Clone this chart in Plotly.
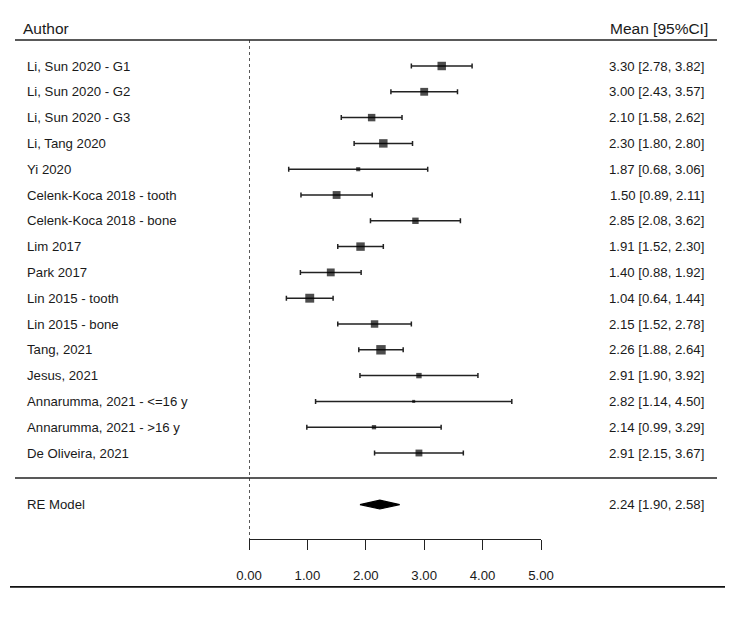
import numpy as np
import plotly.graph_objects as go

# study data
authors = [
    "Li, Sun 2020 - G1", "Li, Sun 2020 - G2", "Li, Sun 2020 - G3", "Li, Tang 2020",
    "Yi 2020", "Celenk-Koca 2018 - tooth", "Celenk-Koca 2018 - bone", "Lim 2017",
    "Park 2017", "Lin 2015 - tooth", "Lin 2015 - bone", "Tang, 2021",
    "Jesus, 2021", "Annarumma, 2021 - <=16 y", "Annarumma, 2021 - >16 y", "De Oliveira, 2021",
]
mean = [3.30, 3.00, 2.10, 2.30, 1.87, 1.50, 2.85, 1.91, 1.40, 1.04, 2.15, 2.26, 2.91, 2.82, 2.14, 2.91]
ci_lo = [2.78, 2.43, 1.58, 1.80, 0.68, 0.89, 2.08, 1.52, 0.88, 0.64, 1.52, 1.88, 1.90, 1.14, 0.99, 2.15]
ci_hi = [3.82, 3.57, 2.62, 2.80, 3.06, 2.11, 3.62, 2.30, 1.92, 1.44, 2.78, 2.64, 3.92, 4.50, 3.29, 3.67]
# relative study weights (%)
weights = [8.5, 7.3, 6.6, 8.5, 2.0, 7.3, 4.9, 8.5, 7.3, 9.4, 6.6, 10.6, 3.5, 1.1, 2.2, 5.6]

re_label = "RE Model"
re_mean, re_lo, re_hi = 2.24, 1.90, 2.58

xticks = [0, 1, 2, 3, 4, 5]

W, H = 747, 627
FONT = "Liberation Sans, Arial, sans-serif"
INK = "#1a1a1a"
LINE = "#222222"

rows = list(range(len(authors)))
re_row = len(authors) + 1
row_sep = len(authors) - 0.03
row_top = -1.01
row_axis = 18.33
row_bottom = 20.19

mean_a = np.array(mean)
err_plus = np.array(ci_hi) - mean_a
err_minus = mean_a - np.array(ci_lo)
box = np.sqrt(weights) * 2.9

fig = go.Figure()

fig.add_trace(go.Scatter(
    x=mean, y=rows, mode="markers",
    marker=dict(symbol="square", size=box, color="black", line=dict(width=0)),
    error_x=dict(type="data", symmetric=False, array=err_plus, arrayminus=err_minus,
                 color=LINE, thickness=1.5, width=2.5),
    hoverinfo="skip", showlegend=False,
))

# summary diamond
fig.add_trace(go.Scatter(
    x=[re_lo, re_mean, re_hi, re_mean, re_lo],
    y=[re_row, re_row - 0.17, re_row, re_row + 0.17, re_row],
    mode="lines", fill="toself", fillcolor="black",
    line=dict(color="black", width=1.2), hoverinfo="skip", showlegend=False,
))

shapes = [
    dict(type="line", xref="x", yref="y", x0=0, x1=0, y0=row_top, y1=row_axis,
         line=dict(color=LINE, width=1.5, dash="dot")),
    dict(type="line", xref="paper", yref="y", x0=15 / W, x1=717 / W, y0=row_top, y1=row_top,
         line=dict(color=LINE, width=1.4)),
    dict(type="line", xref="paper", yref="y", x0=15 / W, x1=717 / W, y0=row_sep, y1=row_sep,
         line=dict(color=LINE, width=1.4)),
    dict(type="line", xref="paper", yref="y", x0=10 / W, x1=725 / W, y0=row_bottom, y1=row_bottom,
         line=dict(color="#111111", width=1.8)),
]

ann = [
    dict(text="Author", x=21 / W, y=-1.45, xanchor="left", font=dict(size=15.5)),
    dict(text="Mean [95%CI]", x=710 / W, y=-1.45, xanchor="right", font=dict(size=15.5)),
    dict(text=re_label, x=25 / W, y=re_row, xanchor="left"),
    dict(text=f"{re_mean:.2f} [{re_lo:.2f}, {re_hi:.2f}]", x=706 / W, y=re_row, xanchor="right"),
]
for r, a, m, lo, hi in zip(rows, authors, mean, ci_lo, ci_hi):
    ann.append(dict(text=a, x=25 / W, y=r, xanchor="left"))
    ann.append(dict(text=f"{m:.2f} [{lo:.2f}, {hi:.2f}]", x=706 / W, y=r, xanchor="right"))
for a in ann:
    a.update(xref="paper", yref="y", yanchor="middle", showarrow=False)
    a.setdefault("font", {})
    a["font"].setdefault("size", 13.2)
    a["font"].update(family=FONT, color=INK)

fig.update_layout(
    width=W, height=H,
    margin=dict(l=0, r=0, t=0, b=0, pad=0, autoexpand=False),
    paper_bgcolor="white", plot_bgcolor="white",
    shapes=shapes, annotations=ann,
    xaxis=dict(domain=[249 / W, 541 / W], range=[0, 5], anchor="free", position=1 - 539 / H,
               showgrid=False, zeroline=False, showline=True, linecolor=LINE, linewidth=1.4,
               ticks="outside", ticklen=10, tickwidth=1.4, tickcolor=LINE,
               tickvals=xticks, tickformat=".2f", ticklabelstandoff=14,
               tickfont=dict(family=FONT, size=13.2, color=INK)),
    yaxis=dict(domain=[0, 1], range=[(H - 66) / 25.8, -66 / 25.8], visible=False),
)

fig.write_html("out.html", config={"displayModeBar": False},
               post_script="document.body.style.margin='0';")
